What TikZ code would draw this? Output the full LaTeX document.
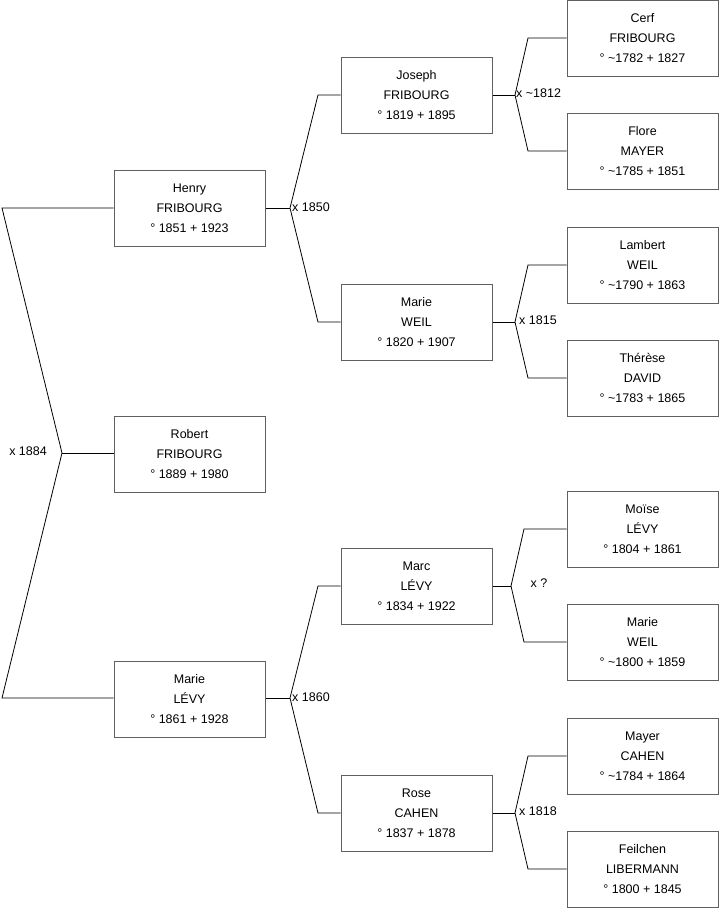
\documentclass[tikz,border=0pt]{standalone}
\usepackage{fontspec}
\setmainfont{Liberation Sans}
\usepackage{xcolor}
\definecolor{boxgray}{RGB}{96,96,96}
\usetikzlibrary{positioning}

\begin{document}
\begin{tikzpicture}[x=1pt, y=-1pt,
  person/.style={draw=boxgray, line width=1pt, minimum width=151pt, minimum height=76pt,
                 inner sep=0pt, align=center, font=\fontsize{12.5}{20}\selectfont},
  link/.style={black, line width=0.8pt},
  wed/.style={font=\fontsize{12.5}{15}\selectfont, inner sep=0pt}]
\useasboundingbox (0,0) rectangle (719,908);

% ===== GENERATION 1 =====
\node[person] (robert) at (189.5,454) {Robert\\FRIBOURG\\° 1889 + 1980};
\node[person] (henry)  at (189.5,208) {Henry\\FRIBOURG\\° 1851 + 1923};
\node[person] (marie)  at (189.5,699) {Marie\\LÉVY\\° 1861 + 1928};

% ===== GENERATION 2 =====
\node[person] (joseph) at (416.5,95)  {Joseph\\FRIBOURG\\° 1819 + 1895};
\node[person] (mariew) at (416.5,322) {Marie\\WEIL\\° 1820 + 1907};
\node[person] (marc)   at (416.5,586) {Marc\\LÉVY\\° 1834 + 1922};
\node[person] (rose)   at (416.5,813) {Rose\\CAHEN\\° 1837 + 1878};

% ===== GENERATION 3 =====
\node[person] (cerf)     at (642.5,38)  {Cerf\\FRIBOURG\\° \textasciitilde1782 + 1827};
\node[person] (flore)    at (642.5,151) {Flore\\MAYER\\° \textasciitilde1785 + 1851};
\node[person] (lambert)  at (642.5,265) {Lambert\\WEIL\\° \textasciitilde1790 + 1863};
\node[person] (therese)  at (642.5,378) {Thérèse\\DAVID\\° \textasciitilde1783 + 1865};
\node[person] (moise)    at (642.5,529) {Moïse\\LÉVY\\° 1804 + 1861};
\node[person] (mariew2)  at (642.5,642) {Marie\\WEIL\\° \textasciitilde1800 + 1859};
\node[person] (mayer)    at (642.5,756) {Mayer\\CAHEN\\° \textasciitilde1784 + 1864};
\node[person] (feilchen) at (642.5,869) {Feilchen\\LIBERMANN\\° 1800 + 1845};

% ===== Parents of Robert =====
\coordinate (j0) at (62,453);
\coordinate (c0a) at (2,208);
\coordinate (c0b) at (2,698);
\draw[link] (henry.west |- c0a) -- (c0a) -- (j0) -- (c0b) -- (marie.west |- c0b);
\draw[link] (j0) -- (robert.west |- j0);
\node[wed, anchor=east] (w0) at (47,451) {x 1884};

% ===== Parents of Henry and Marie =====
\coordinate (j1) at (290,208);
\coordinate (c1a) at (318,95);
\coordinate (c1b) at (318,322);
\draw[link] (henry.east) -- (j1);
\draw[link] (joseph.west) -- (c1a) -- (j1) -- (c1b) -- (mariew.west);
\node[wed, anchor=west] (w1) at (292,207) {x 1850};

\coordinate (j2) at (290,698);
\coordinate (c2a) at (318,586);
\coordinate (c2b) at (318,813);
\draw[link] (marie.east |- j2) -- (j2);
\draw[link] (marc.west) -- (c2a) -- (j2) -- (c2b) -- (rose.west);
\node[wed, anchor=west] (w2) at (292,697) {x 1860};

% ===== Great-grandparents =====
\coordinate (j3) at (515,95);
\coordinate (c3a) at (528,38);
\coordinate (c3b) at (528,151);
\draw[link] (joseph.east) -- (j3);
\draw[link] (cerf.west) -- (c3a) -- (j3) -- (c3b) -- (flore.west);
\node[wed, anchor=west] (w3) at (516,93) {x \textasciitilde1812};

\coordinate (j4) at (515,322);
\coordinate (c4a) at (528,265);
\coordinate (c4b) at (528,378);
\draw[link] (mariew.east) -- (j4);
\draw[link] (lambert.west) -- (c4a) -- (j4) -- (c4b) -- (therese.west);
\node[wed, anchor=west] (w4) at (519,320) {x 1815};

\coordinate (j5) at (511,586);
\coordinate (c5a) at (524,529);
\coordinate (c5b) at (524,642);
\draw[link] (marc.east) -- (j5);
\draw[link] (moise.west) -- (c5a) -- (j5) -- (c5b) -- (mariew2.west);
\node[wed] (w5) at (539,583) {x ?};

\coordinate (j6) at (515,813);
\coordinate (c6a) at (528,756);
\coordinate (c6b) at (528,869);
\draw[link] (rose.east) -- (j6);
\draw[link] (mayer.west) -- (c6a) -- (j6) -- (c6b) -- (feilchen.west);
\node[wed, anchor=west] (w6) at (519,811) {x 1818};

\end{tikzpicture}
\end{document}
